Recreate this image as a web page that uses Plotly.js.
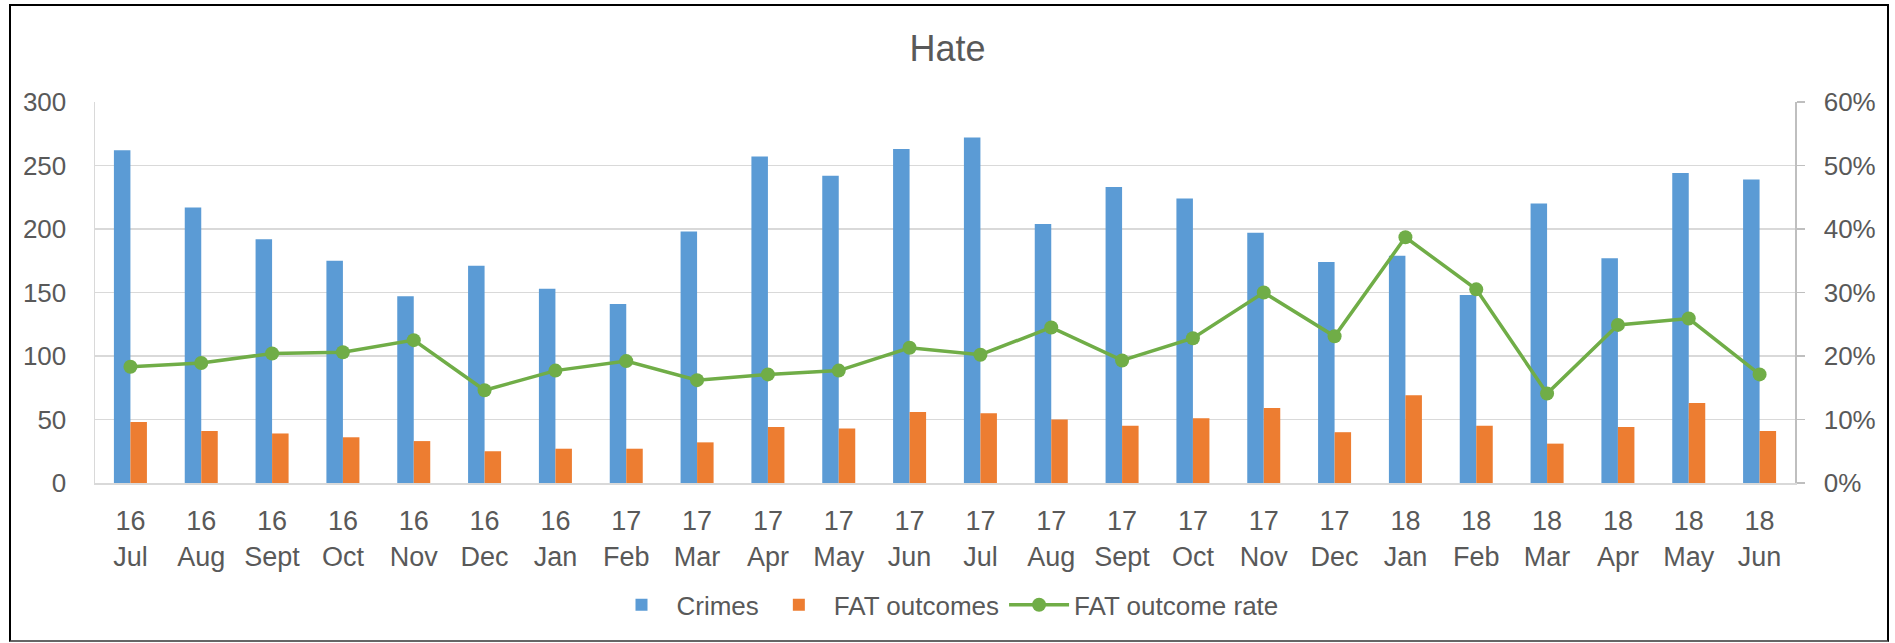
<!DOCTYPE html>
<html>
<head>
<meta charset="utf-8">
<script src="https://cdn.plot.ly/plotly-3.0.1.min.js"></script>
<style>
  html, body { margin: 0; padding: 0; background: #fff; }
  #chart { position: absolute; left: 0; top: 0; width: 1895px; height: 643px; }
  #frame { position: absolute; left: 9px; top: 4px; width: 1880px; height: 638px; box-sizing: border-box;
           border: 2px solid #000; border-bottom-color: #666; pointer-events: none; }
</style>
</head>
<body>
<div id="chart"></div>
<div id="frame"></div>
<script>
const years  = ["16","16","16","16","16","16","16","17","17","17","17","17","17","17","17","17","17","17","18","18","18","18","18","18"];
const months = ["Jul","Aug","Sept","Oct","Nov","Dec","Jan","Feb","Mar","Apr","May","Jun","Jul","Aug","Sept","Oct","Nov","Dec","Jan","Feb","Mar","Apr","May","Jun"];
const crimes = [262,217,192,175,147,171,153,141,198,257,242,263,272,204,233,224,197,174,179,148,220,177,244,239];
const fatOutcomes = [48,41,39,36,33,25,27,27,32,44,43,56,55,50,45,51,59,40,69,45,31,44,63,41];
const fatRate = [0.183,0.189,0.204,0.206,0.225,0.146,0.177,0.192,0.162,0.171,0.177,0.213,0.202,0.245,0.193,0.228,0.300,0.231,0.387,0.305,0.141,0.249,0.259,0.171];
const leftTicks = [0,50,100,150,200,250,300];
const rightTicks = [0,0.1,0.2,0.3,0.4,0.5,0.6];

const cats = years.map((y, i) => y + " " + months[i] + " #" + i);
const tickText = years.map((y, i) => y + "<br>" + months[i]);

const FONT = "Liberation Sans, Arial, sans-serif";
const TXT = "#595959";

const data = [
  { type: "bar", name: "Crimes", x: cats, y: crimes, marker: { color: "#5B9BD5" }, yaxis: "y" },
  { type: "bar", name: "FAT outcomes", x: cats, y: fatOutcomes, marker: { color: "#ED7D31" }, yaxis: "y" },
  { type: "scatter", mode: "lines+markers", name: "FAT outcome rate", x: cats, y: fatRate, yaxis: "y2",
    line: { color: "#70AD47", width: 3.5 }, marker: { color: "#70AD47", size: 14 } }
];

const layout = {
  width: 1895, height: 643,
  paper_bgcolor: "#fff", plot_bgcolor: "#fff",
  margin: { l: 95, r: 100, t: 102, b: 160, pad: 0 },
  font: { family: FONT, size: 26, color: TXT },
  title: { text: "Hate", font: { family: FONT, size: 36, color: TXT }, x: 0.5, xanchor: "center", xref: "container",
           y: 1 - 48 / 643, yanchor: "middle", yref: "container" },
  barmode: "group", bargap: 0.534, bargroupgap: 0,
  showlegend: true,
  legend: { orientation: "h", x: 0.5, xanchor: "center", y: -0.32, yanchor: "middle",
            font: { family: FONT, size: 26, color: TXT }, traceorder: "normal", itemwidth: 60 },
  xaxis: { type: "category", range: [-0.5, cats.length - 0.5], tickvals: cats, ticktext: tickText,
           showgrid: false, zeroline: false,
           showline: true, linecolor: "#D9D9D9", linewidth: 2, ticks: "", ticklabelstandoff: 13,
           tickfont: { family: FONT, size: 27, color: TXT }, fixedrange: true },
  yaxis: { range: [0, 300], tickvals: leftTicks, showgrid: true, gridcolor: "#D9D9D9", gridwidth: 1.3,
           zeroline: false, showline: true, linecolor: "#D9D9D9", linewidth: 1.5, ticks: "",
           ticklabelstandoff: 22, tickfont: { family: FONT, size: 26, color: TXT } },
  yaxis2: { range: [0, 0.6], tickvals: rightTicks, tickformat: ".0%", overlaying: "y", side: "right",
            showgrid: false, zeroline: false, showline: true, linecolor: "#BFBFBF", linewidth: 1.5,
            ticks: "outside", ticklen: 8, tickcolor: "#BFBFBF", tickwidth: 1.5, ticklabelstandoff: 14,
            tickfont: { family: FONT, size: 26, color: TXT } }
};

Plotly.newPlot("chart", data, layout, { displayModeBar: false, staticPlot: true });
</script>
</body>
</html>
